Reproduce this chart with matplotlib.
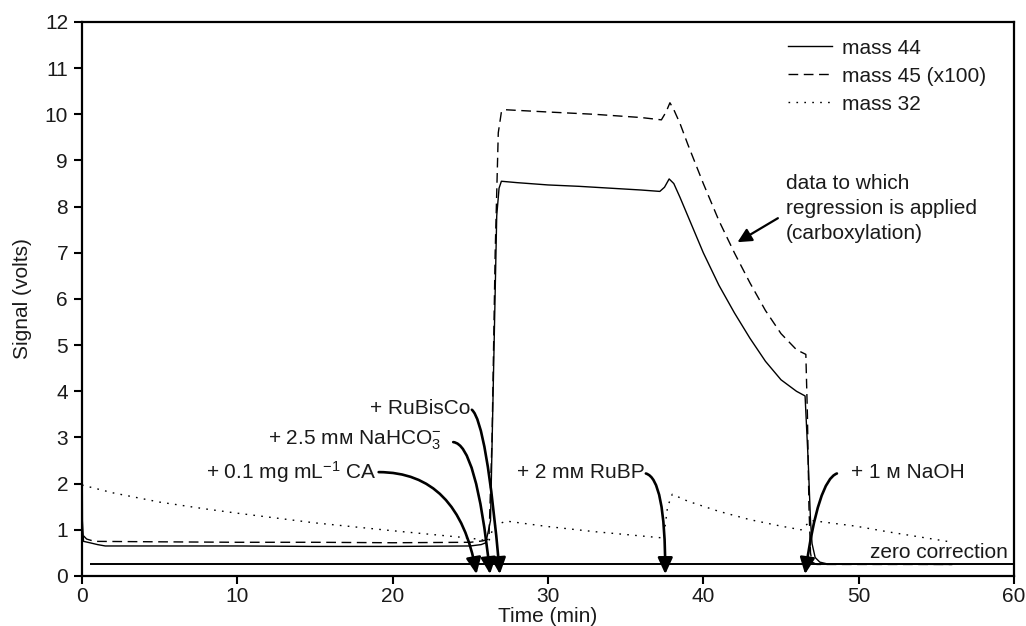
import matplotlib
matplotlib.use("Agg")
import matplotlib.pyplot as plt

plt.rcParams['font.family'] = ['Liberation Sans', 'DejaVu Sans']
plt.rcParams['mathtext.fontset'] = 'custom'
plt.rcParams['mathtext.rm'] = 'Liberation Sans'
plt.rcParams['mathtext.it'] = 'Liberation Sans:italic'
plt.rcParams['mathtext.default'] = 'regular'

# ---------------- data ----------------
t44 = [0, 0.03, 0.1, 0.5, 1.0, 1.5, 5, 10, 15, 20, 25, 25.7, 26.0, 26.3, 26.5,
       26.7, 26.85, 27.0, 28, 30, 32, 34, 36, 37.2, 37.5, 37.8, 38.1, 38.5, 39,
       40, 41, 42, 43, 44, 45, 46, 46.55, 46.75, 46.9, 47.0, 47.2, 47.5, 48.0, 56]
m44 = [3.5, 1.2, 0.75, 0.72, 0.68, 0.65, 0.65, 0.65, 0.64, 0.64, 0.65, 0.68, 0.72,
       1.2, 4.5, 7.8, 8.4, 8.55, 8.52, 8.47, 8.44, 8.4, 8.36, 8.33, 8.42, 8.6, 8.5,
       8.2, 7.8, 7.0, 6.3, 5.7, 5.15, 4.65, 4.25, 4.0, 3.9, 2.5, 1.2, 0.7, 0.4,
       0.3, 0.26, 0.25]

t45 = [0.1, 0.3, 0.8, 5, 10, 15, 20, 25, 25.8, 26.2, 26.4, 26.6, 26.8, 27.0, 27.2,
       30, 33, 36, 37.3, 37.6, 37.85, 38.1, 38.5, 39, 40, 41, 42, 43, 44, 45, 46,
       46.6, 46.7, 46.8, 46.9, 47.0, 47.3, 56]
m45 = [0.87, 0.8, 0.75, 0.74, 0.73, 0.73, 0.72, 0.73, 0.76, 0.8, 3.0, 7.0, 9.6,
       10.05, 10.1, 10.05, 10.0, 9.93, 9.88, 10.05, 10.25, 10.1, 9.8, 9.35, 8.5,
       7.7, 7.0, 6.35, 5.75, 5.25, 4.9, 4.8, 3.5, 1.5, 0.5, 0.3, 0.25, 0.25]

t32 = [0, 2, 5, 8, 10, 15, 20, 25, 26.2, 26.5, 27.3, 30, 33, 37.2, 37.45, 37.7,
       38.0, 39, 41, 43, 45, 46.3, 46.6, 47.0, 49.8, 52, 55.7]
m32 = [1.97, 1.8, 1.6, 1.45, 1.36, 1.15, 0.98, 0.82, 0.76, 1.08, 1.19, 1.07, 0.96,
       0.83, 0.84, 1.5, 1.77, 1.62, 1.4, 1.22, 1.08, 1.0, 1.1, 1.2, 1.08, 0.95, 0.75]

zero_t = [0.5, 60]
zero_v = [0.25, 0.25]

series_labels = ['mass 44', 'mass 45 (x100)', 'mass 32']

# additions: label, time of addition (arrow tip)
add_labels = ['+ 0.1 mg mL$^{\u22121}$ CA',
              '+ 2.5 m\u1d0d NaHCO$_3^{\u2212}$',
              '+ RuBisCo',
              '+ 2 m\u1d0d RuBP',
              '+ 1 \u1d0d NaOH']
add_times = [25.4, 26.27, 26.9, 37.55, 46.55]

x_ticks = [0, 10, 20, 30, 40, 50, 60]
y_ticks = list(range(0, 13))

# ---------------- figure ----------------
TXT = '#1a1a1a'
FS = 15
fig = plt.figure(figsize=(10.26, 6.26), dpi=100)
ax = fig.add_axes([0.0799, 0.0799, 0.9084, 0.885])

ax.plot(zero_t, zero_v, color='black', lw=1.4, solid_capstyle='butt')
l44, = ax.plot(t44, m44, color='black', lw=1.0, label=series_labels[0])
l45, = ax.plot(t45, m45, color='black', lw=1.0, linestyle=(0, (7, 4)),
               label=series_labels[1])
l32, = ax.plot(t32, m32, color='black', lw=1.0, linestyle=(0, (1.2, 4.5)),
               label=series_labels[2])

ax.set_xlim(0, 60)
ax.set_ylim(0, 12)
ax.set_xticks(x_ticks)
ax.set_yticks(y_ticks)
ax.tick_params(direction='out', length=6, width=1.5, labelsize=FS, colors='black',
               labelcolor=TXT, pad=4)
ax.tick_params(axis='x', pad=2)
for s in ax.spines.values():
    s.set_linewidth(1.6)
ax.set_xlabel('Time (min)', fontsize=FS, color=TXT, labelpad=1)
ax.set_ylabel('Signal (volts)', fontsize=FS, color=TXT, labelpad=9)

leg = ax.legend(handles=[l44, l45, l32], loc='upper left',
                bbox_to_anchor=(0.749, 0.985), frameon=False, fontsize=FS,
                handlelength=2.07, handletextpad=0.48, labelspacing=0.43,
                borderaxespad=0)
for t in leg.get_texts():
    t.set_color(TXT)

# ---------------- addition annotations ----------------
arrow_kw = dict(arrowstyle='-|>,head_length=0.7,head_width=0.32', lw=1.9,
                color='black', mutation_scale=14, shrinkA=0, shrinkB=0)
text_pos = [(19.0, 2.25, 'right'), (23.15, 2.95, 'right'), (25.0, 3.62, 'right'),
            (36.2, 2.25, 'right'), (49.5, 2.25, 'left')]
arrow_start = [(19.1, 2.25), (23.9, 2.9), (25.1, 3.6), (36.3, 2.22), (48.6, 2.22)]
conn = ['angle3,angleA=0,angleB=100', 'angle3,angleA=-5,angleB=96',
        'angle3,angleA=-40,angleB=95', 'angle3,angleA=-15,angleB=90',
        'angle3,angleA=20,angleB=82']
for lab, tip, (tx, ty, ha), st, cs in zip(add_labels, add_times, text_pos,
                                          arrow_start, conn):
    ax.text(tx, ty, lab, ha=ha, va='center', fontsize=FS, color=TXT)
    ax.annotate('', xy=(tip, 0.04), xytext=st,
                arrowprops=dict(connectionstyle=cs, **arrow_kw))

ax.text(59.6, 0.3, 'zero correction', ha='right', va='bottom', fontsize=FS,
        color=TXT)

ax.text(45.3, 7.97, 'data to which\nregression is applied\n(carboxylation)',
        ha='left', va='center', fontsize=FS, color=TXT, linespacing=1.4)
ax.annotate('', xy=(42.2, 7.23), xytext=(44.8, 7.75),
            arrowprops=dict(arrowstyle='-|>,head_length=0.6,head_width=0.3',
                            lw=1.6, color='black', mutation_scale=14,
                            shrinkA=0, shrinkB=0))

fig.savefig('out.png', dpi=100)
